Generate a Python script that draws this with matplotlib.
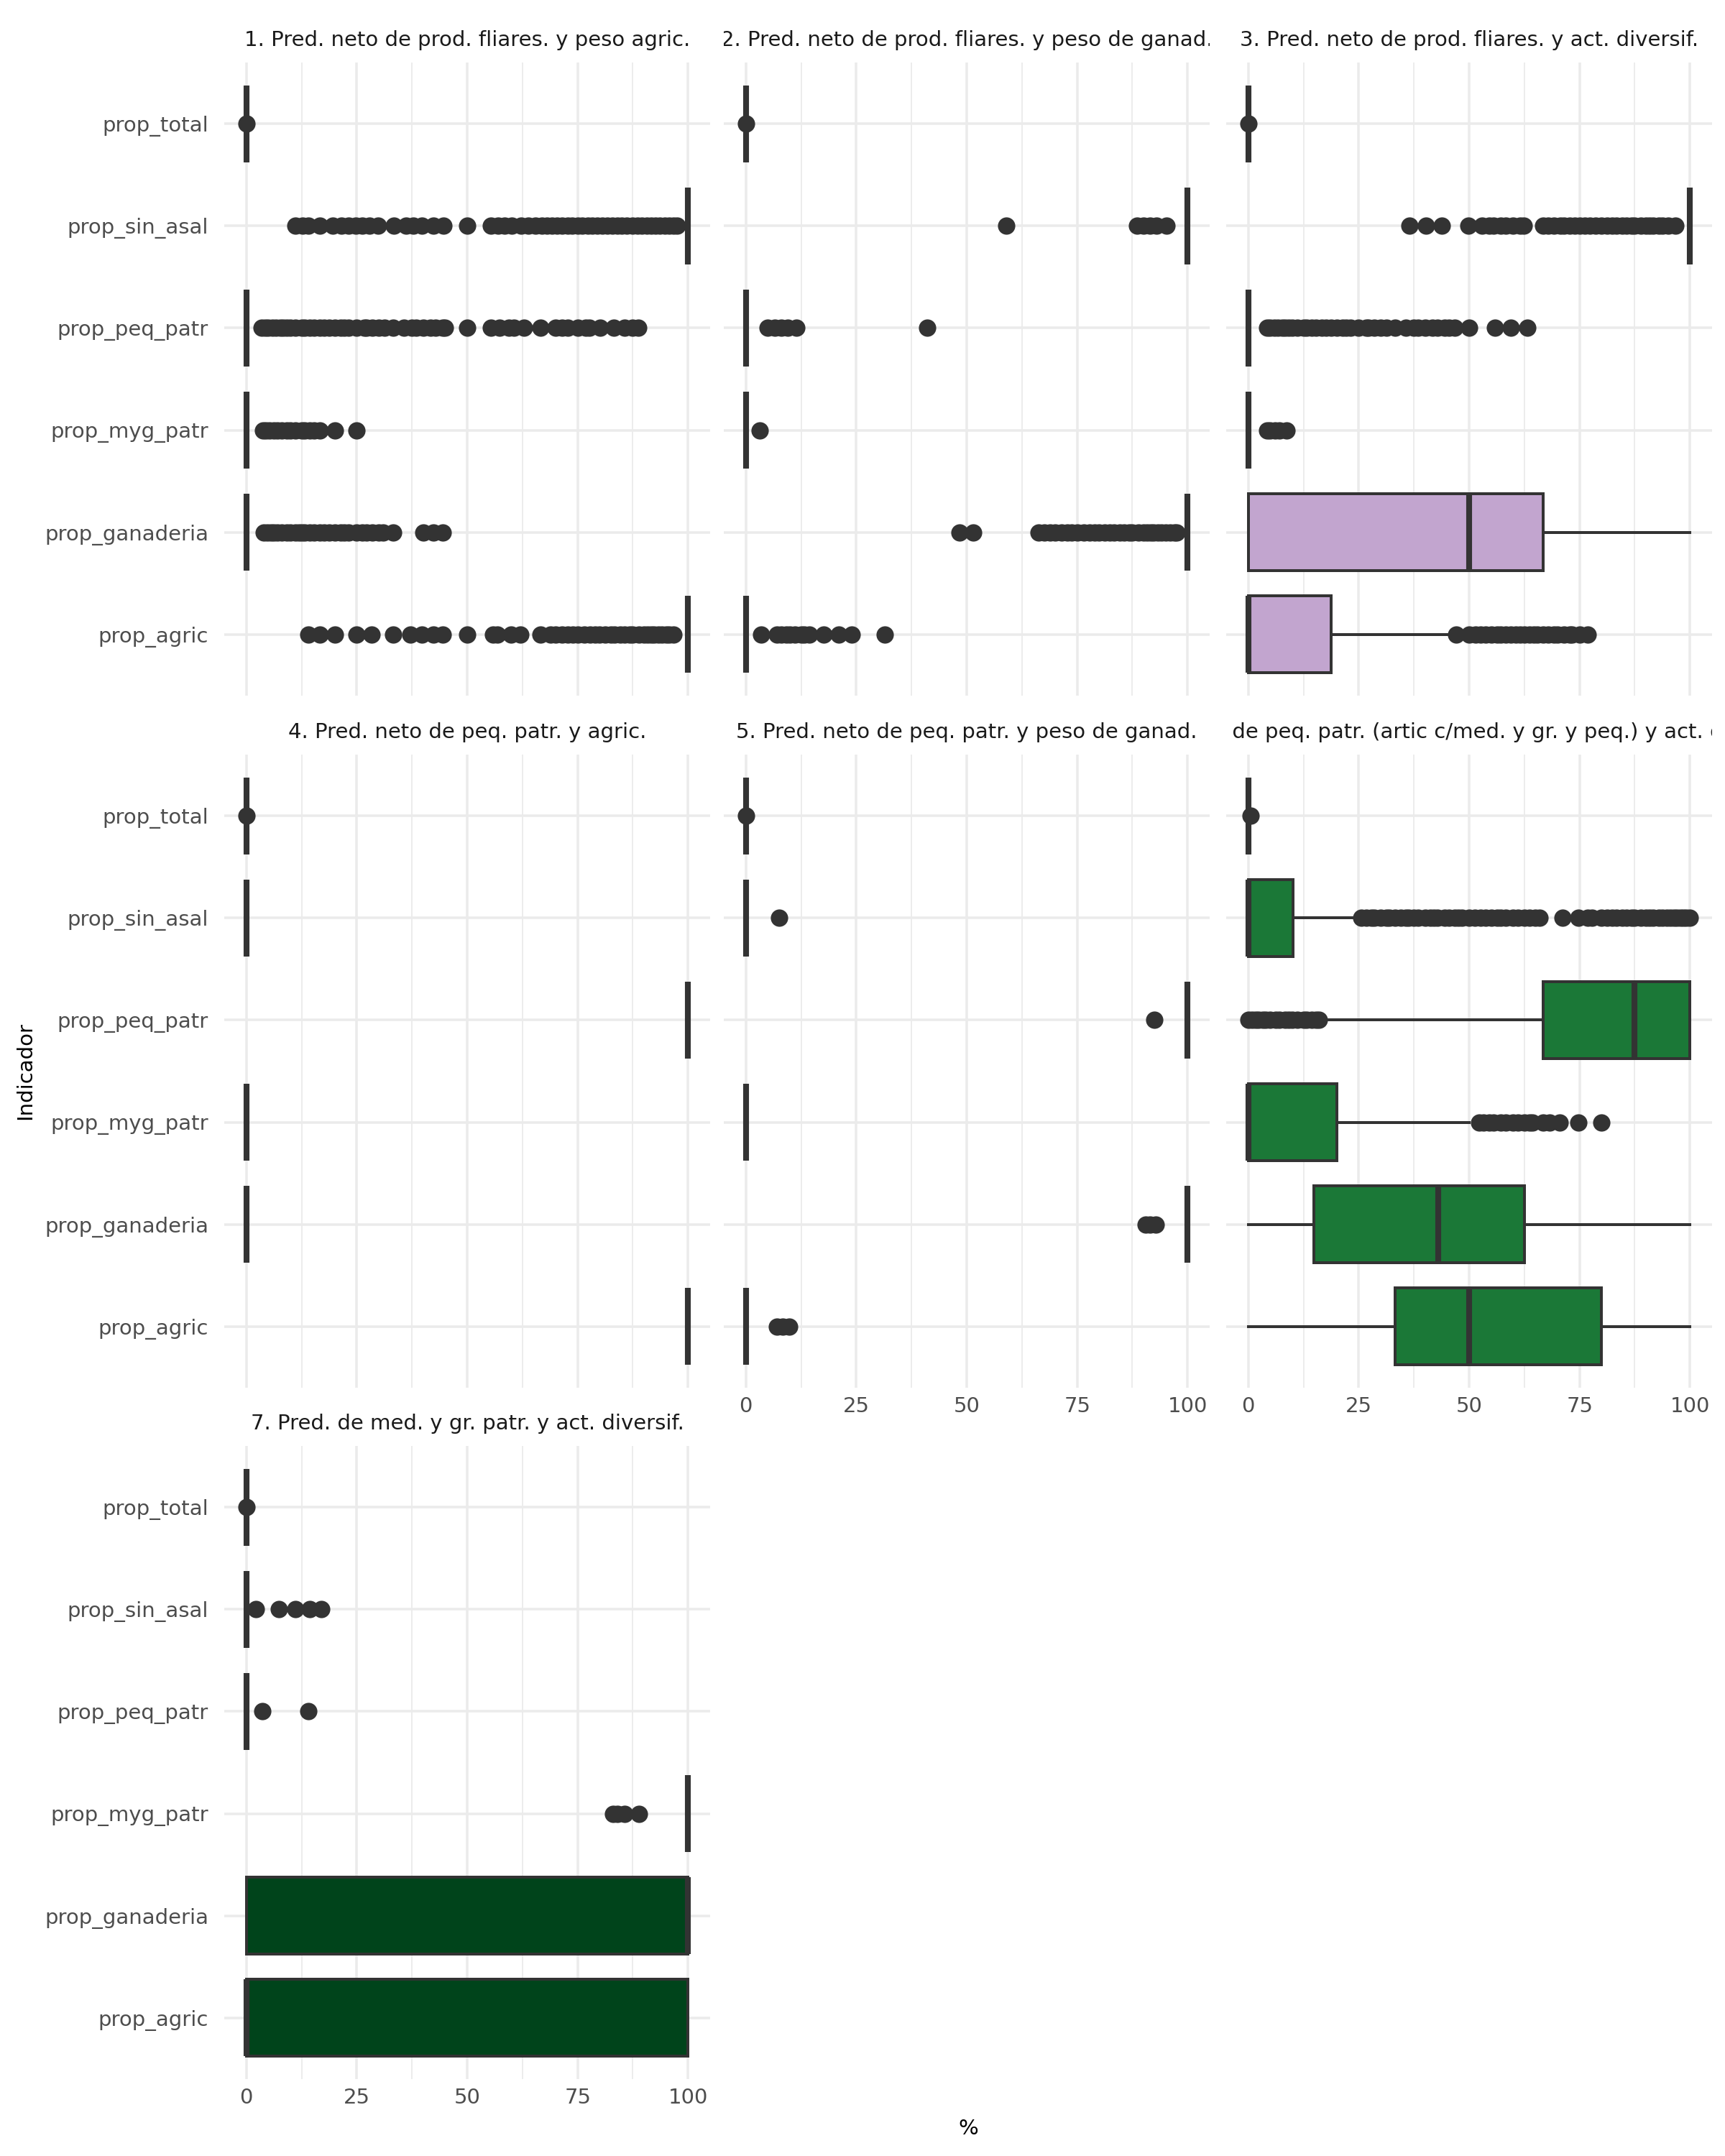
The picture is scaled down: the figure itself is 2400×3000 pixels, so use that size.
import matplotlib
matplotlib.use("Agg")
import matplotlib.pyplot as plt
from matplotlib.transforms import Bbox, TransformedBbox, ScaledTranslation

# categories, bottom to top
indicadores = ["prop_agric", "prop_ganaderia", "prop_myg_patr",
               "prop_peq_patr", "prop_sin_asal", "prop_total"]

titulos = [
    "1. Pred. neto de prod. fliares. y peso agric.",
    "2. Pred. neto de prod. fliares. y peso de ganad.",
    "3. Pred. neto de prod. fliares. y act. diversif.",
    "4. Pred. neto de peq. patr. y agric.",
    "5. Pred. neto de peq. patr. y peso de ganad.",
    "6. Pred. de peq. patr. (artic c/med. y gr. y peq.) y act. diversif.",
    "7. Pred. de med. y gr. patr. y act. diversif.",
]

rellenos = ["#40004B", "#762A83", "#C2A5CF", "#E7D4E8", "#5AAE61", "#1B7837", "#00441B"]

# box stats per indicator: (whislo, q1, med, q3, whishi)
p1_box = [(100, 100, 100, 100, 100), (0, 0, 0, 0, 0), (0, 0, 0, 0, 0),
          (0, 0, 0, 0, 0), (100, 100, 100, 100, 100), (0, 0, 0, 0, 0)]
p1_out = [
    [14.0, 16.6, 20.0, 25.0, 28.3, 33.3, 37.1, 39.8, 42.4, 44.4, 50.0, 55.9, 56.9, 60.0,
     62.1, 66.6, 68.9, 70.0, 71.4, 72.7, 74.0, 75.0, 76.5, 77.8, 79.0, 80.0, 81.3, 82.5,
     83.3, 84.6, 85.7, 86.7, 87.5, 88.9, 90.0, 90.9, 91.7, 92.3, 93.3, 94.1, 95.0, 95.8, 96.7],
    [4.0, 4.8, 5.6, 6.3, 7.1, 8.0, 9.1, 10.0, 11.1, 12.0, 12.5, 13.3, 14.3, 15.4, 16.7,
     17.6, 18.8, 20.0, 21.4, 22.2, 23.1, 25.0, 26.3, 27.3, 28.6, 30.0, 31.0, 33.3, 40.0,
     42.4, 44.4],
    [3.8, 4.5, 5.3, 6.3, 7.1, 8.0, 9.1, 10.0, 11.1, 12.5, 13.3, 14.3, 15.4, 16.7, 20.0, 25.0],
    [3.5, 4.2, 5.0, 5.9, 6.7, 7.7, 8.3, 9.1, 10.0, 11.1, 12.5, 13.3, 14.3, 15.4, 16.7, 17.6,
     18.8, 20.0, 21.4, 22.2, 23.1, 25.0, 26.7, 27.3, 28.6, 30.0, 31.3, 33.3, 35.7, 37.5,
     38.5, 40.0, 41.7, 42.9, 44.4, 45.0, 50.0, 55.4, 57.4, 59.5, 60.6, 62.9, 66.6, 70.0,
     71.4, 72.7, 75.0, 76.9, 77.7, 80.1, 83.2, 85.7, 87.5, 88.7],
    [11.1, 12.7, 14.0, 16.6, 19.6, 21.5, 23.1, 24.7, 26.3, 27.8, 29.9, 33.4, 36.2, 37.8,
     39.8, 42.4, 44.7, 50.0, 55.4, 57.0, 58.5, 60.1, 62.2, 63.8, 65.4, 66.9, 68.0, 69.2,
     70.4, 71.4, 72.7, 73.7, 75.0, 76.0, 77.3, 78.3, 79.5, 80.6, 81.8, 82.9, 84.0, 85.0,
     86.2, 87.5, 88.5, 89.5, 90.6, 91.7, 92.6, 93.6, 94.7, 95.7, 96.7, 97.5],
    [0.0],
]

p2_box = [(0, 0, 0, 0, 0), (100, 100, 100, 100, 100), (0, 0, 0, 0, 0),
          (0, 0, 0, 0, 0), (100, 100, 100, 100, 100), (0, 0, 0, 0, 0)]
p2_out = [
    [3.5, 7.1, 8.0, 9.1, 10.0, 11.1, 12.5, 13.3, 14.3, 17.6, 21.0, 23.9, 31.5],
    [48.3, 51.5, 66.2, 67.5, 68.8, 70.0, 71.4, 72.7, 73.7, 75.0, 76.5, 77.8, 78.9, 80.0,
     81.3, 82.4, 83.3, 84.6, 85.7, 86.7, 87.5, 88.9, 90.0, 90.9, 91.7, 92.3, 93.3, 94.1,
     95.0, 96.0, 97.0, 97.5],
    [3.1],
    [5.0, 6.5, 8.0, 9.5, 11.5, 41.1],
    [58.9, 88.5, 90.0, 91.5, 93.0, 95.3],
    [0.0],
]

p3_box = [(0, 0, 0, 18.75, 45.5), (0, 0, 50, 66.7, 100), (0, 0, 0, 0, 0),
          (0, 0, 0, 0, 0), (100, 100, 100, 100, 100), (0, 0, 0, 0, 0)]
p3_out = [
    [47.1, 50.0, 51.5, 52.6, 53.8, 55.0, 56.3, 57.1, 58.3, 59.5, 60.6, 61.5, 62.5, 63.6,
     64.7, 65.5, 66.7, 67.9, 69.2, 70.0, 71.4, 72.7, 73.3, 75.0, 76.9],
    [],
    [4.2, 5.0, 6.0, 7.1, 8.6],
    [4.2, 5.0, 5.9, 6.7, 7.7, 8.3, 9.1, 10.0, 11.1, 12.5, 13.3, 14.3, 15.4, 16.7, 17.6,
     18.8, 20.0, 21.4, 22.2, 23.1, 25.0, 26.7, 27.3, 28.6, 30.0, 31.3, 33.3, 35.7, 37.5,
     38.5, 40.0, 41.7, 42.9, 44.4, 45.5, 46.7, 50.0, 55.9, 59.5, 63.2],
    [36.5, 40.3, 43.8, 49.8, 53.0, 54.5, 55.6, 57.1, 58.3, 60.0, 61.5, 62.4, 66.8, 67.9,
     69.2, 70.6, 71.4, 72.7, 73.9, 75.0, 76.2, 77.3, 78.6, 80.0, 81.3, 82.4, 83.3, 84.6,
     85.7, 86.7, 87.5, 88.9, 90.0, 90.9, 91.7, 92.9, 93.8, 95.0, 96.7],
    [0.0],
]

p4_box = [(100, 100, 100, 100, 100), (0, 0, 0, 0, 0), (0, 0, 0, 0, 0),
          (100, 100, 100, 100, 100), (0, 0, 0, 0, 0), (0, 0, 0, 0, 0)]
p4_out = [[], [], [], [], [], [0.0]]

p5_box = [(0, 0, 0, 0, 0), (100, 100, 100, 100, 100), (0, 0, 0, 0, 0),
          (100, 100, 100, 100, 100), (0, 0, 0, 0, 0), (0, 0, 0, 0, 0)]
p5_out = [[7.1, 8.3, 9.8], [90.5, 91.5, 92.8], [], [92.4], [7.6], [0.0]]

p6_box = [(0, 33.3, 50, 80, 100), (0, 14.8, 43.0, 62.5, 100), (0, 0, 0, 20, 50),
          (18.2, 66.7, 87.5, 100, 100), (0, 0, 0, 10.2, 25.0), (0, 0, 0, 0, 0)]
p6_out = [
    [],
    [],
    [52.3, 53.3, 54.5, 55.6, 57.1, 58.3, 60.0, 61.1, 62.5, 63.6, 64.3, 66.7, 68.2, 70.5,
     74.8, 79.9],
    [0.0, 0.8, 1.6, 2.4, 3.3, 4.0, 5.0, 6.3, 7.1, 8.3, 9.1, 10.0, 11.1, 12.5, 13.3, 14.3,
     15.4, 16.0],
    [25.6, 26.7, 27.8, 28.6, 30.0, 31.3, 32.0, 33.3, 34.5, 35.7, 36.4, 37.5, 38.5, 40.0,
     41.2, 42.1, 42.9, 44.4, 45.5, 46.7, 47.6, 48.4, 50.0, 51.3, 52.6, 53.8, 55.0, 56.3,
     57.1, 58.3, 60.0, 61.1, 62.5, 63.6, 65.0, 66.0, 71.2, 74.8, 76.9, 77.8, 80.0, 81.3,
     82.4, 83.3, 84.6, 85.7, 86.7, 87.5, 88.9, 90.0, 90.9, 91.7, 92.9, 93.8, 94.7, 95.5,
     96.3, 97.1, 97.8, 98.5, 99.2, 100.0],
    [0.6],
]

p7_box = [(0, 0, 0, 100, 100), (0, 0, 100, 100, 100), (100, 100, 100, 100, 100),
          (0, 0, 0, 0, 0), (0, 0, 0, 0, 0), (0, 0, 0, 0, 0)]
p7_out = [[], [], [83.1, 84.0, 85.7, 88.9], [3.6, 14.0], [2.1, 7.4, 11.1, 14.3, 16.9], [0.0]]

cajas = [p1_box, p2_box, p3_box, p4_box, p5_box, p6_box, p7_box]
atipicos = [p1_out, p2_out, p3_out, p4_out, p5_out, p6_out, p7_out]

GRIS = "#333333"
FS = 7.0


def draw_panel(ax, boxes, outs, fill):
    stats = []
    for b, o in zip(boxes, outs):
        stats.append(dict(whislo=b[0], q1=b[1], med=b[2], q3=b[3], whishi=b[4], fliers=o))
    ax.bxp(stats, positions=range(1, len(stats) + 1), widths=0.75,
           orientation="horizontal", patch_artist=True, showcaps=False,
           manage_ticks=False,
           boxprops=dict(facecolor=fill, edgecolor=GRIS, linewidth=0.96),
           medianprops=dict(color=GRIS, linewidth=1.95, solid_capstyle="butt"),
           whiskerprops=dict(color=GRIS, linewidth=0.96),
           flierprops=dict(marker="o", markerfacecolor=GRIS, markeredgecolor=GRIS,
                           markersize=4.8, linestyle="none"))


fig = plt.figure(figsize=(8, 10), dpi=300)

col_left = [312 / 2400, 1007 / 2400, 1706 / 2400]
row_bottom = [1 - 968 / 3000, 1 - 1931 / 3000, 1 - 2893 / 3000]
w = 676 / 2400
h = 881 / 3000

for i in range(7):
    r, c = divmod(i, 3)
    ax = fig.add_axes([col_left[c], row_bottom[r], w, h])
    draw_panel(ax, cajas[i], atipicos[i], rellenos[i])

    ax.set_xlim(-5, 105)
    ax.set_ylim(0.4, 6.6)
    ax.set_xticks([0, 25, 50, 75, 100])
    ax.set_xticks([12.5, 37.5, 62.5, 87.5], minor=True)
    ax.set_yticks(range(1, 7))
    ax.set_axisbelow(True)
    ax.grid(which="major", color="#EBEBEB", linewidth=0.85)
    ax.grid(which="minor", axis="x", color="#EBEBEB", linewidth=0.45)
    for s in ax.spines.values():
        s.set_visible(False)
    ax.tick_params(which="both", length=0, labelsize=FS, labelcolor="#4D4D4D")
    ax.tick_params(axis="x", pad=2.9)
    ax.tick_params(axis="y", pad=5.3)

    if c == 0:
        ax.set_yticklabels(indicadores)
    else:
        ax.set_yticklabels([])
    if i < 4:
        ax.set_xticklabels([])

    # strip title, clipped to the panel width like the facet strip
    off = ScaledTranslation(0, 7.4 / 72, fig.dpi_scale_trans)
    t = fig.text(0.5, 1.0, titulos[i], transform=ax.transAxes + off,
                 ha="center", va="center", fontsize=FS, color="#1A1A1A")
    t.set_clip_box(TransformedBbox(Bbox([[0, 1], [1, 1.2]]), ax.transAxes))
    t.set_clip_on(True)

fig.text(35 / 2400, 1 - 1490 / 3000, "Indicador", rotation=90,
         ha="center", va="center", fontsize=FS)
fig.text(1347 / 2400, 1 - 2962 / 3000, "%", ha="center", va="center", fontsize=FS)

fig.savefig("out.png", dpi=300, facecolor="white")
